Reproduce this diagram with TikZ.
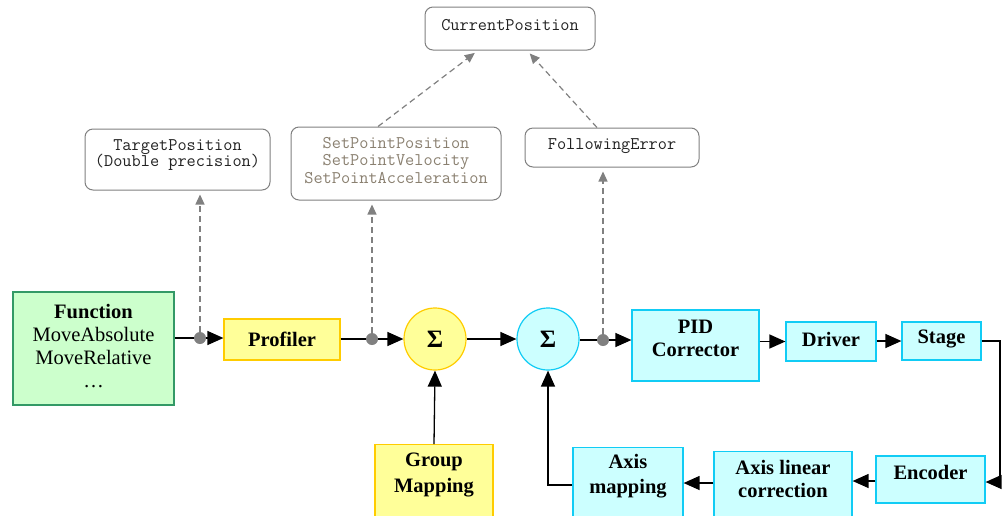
\documentclass[tikz,border=0pt]{standalone}
\usepackage{fontspec}
\setmainfont{Liberation Serif}
\usetikzlibrary{arrows.meta,calc}
\definecolor{yfill}{HTML}{FFFF99}
\definecolor{ydraw}{HTML}{FFCC00}
\definecolor{cfill}{HTML}{CCFFFF}
\definecolor{cdraw}{HTML}{11CCF5}
\definecolor{gfill}{HTML}{CCFFCC}
\definecolor{gdraw}{HTML}{339966}
\definecolor{dgray}{HTML}{808080}
\definecolor{tgray}{HTML}{8A8070}
\definecolor{ttext}{HTML}{222222}
\newcommand{\mb}{\addfontfeature{FakeBold=0.7}}
\begin{document}
\begin{tikzpicture}[x=1pt,y=-1pt,
  blk/.style={draw, line width=1.2pt, inner sep=0pt, align=center,
    font=\bfseries\fontsize{20.5}{24.5}\selectfont},
  ybox/.style={blk, fill=yfill, draw=ydraw},
  cbox/.style={blk, fill=cfill, draw=cdraw},
  gbox/.style={blk, fill=gfill, draw=gdraw},
  lbl/.style={inner sep=0pt, align=center, font=\bfseries\fontsize{20.5}{24.5}\selectfont},
  rbox/.style={draw=dgray, line width=1pt, rounded corners=8pt, fill=white, inner sep=0pt},
  mono/.style={inner sep=0pt, align=center, font=\ttfamily\fontsize{17.8}{16.5}\selectfont},
  dot/.style={circle, fill=dgray, inner sep=0pt, minimum size=12pt},
  arr/.style={line width=1.3pt, -{Triangle[length=16pt,width=14pt]}},
  ln/.style={line width=1.3pt},
  darr/.style={draw=dgray, line width=1.2pt, dash pattern=on 6pt off 4pt,
    -{Triangle[length=10pt,width=9pt]}, shorten >=4pt},
]
\useasboundingbox (0,0) rectangle (1008,515);
\clip (0,0) rectangle (1008,515);

% main row
\node (func) [gbox, minimum width=161pt, minimum height=113pt] at (93.5,348.5) {};
\node (funct) [lbl, font=\fontsize{20.5}{23}\selectfont] at (93.5,346)
  {\bfseries Function\\MoveAbsolute\\MoveRelative\\\dots};
\node (prof) [ybox, minimum width=116pt, minimum height=41pt] at (282,339.5) {Profiler};
\node (s1) [ybox, circle, minimum size=62pt, font=\bfseries\fontsize{25}{25}\selectfont] at (435,339) {Σ};
\node (s2) [cbox, circle, minimum size=62pt, font=\bfseries\fontsize{25}{25}\selectfont] at (548,339) {Σ};
\node (pid) [cbox, minimum width=127pt, minimum height=71pt] at (695.5,345.5) {};
\node (pidt) [lbl, font=\bfseries\fontsize{20.5}{23}\selectfont] at (695.5,338) {PID\\Corrector};
\node (drv) [cbox, minimum width=90pt, minimum height=39pt] at (831,341.5) {};
\node (drvt) [lbl] at (831,339) {Driver};
\node (stg) [cbox, minimum width=79pt, minimum height=38pt] at (941.5,341) {};
\node (stgt) [lbl] at (941.5,339) {Stage};

% bottom row
\node (enc) [cbox, minimum width=109pt, minimum height=47pt] at (930.5,479.5) {};
\node (enct) [lbl] at (930.5,472) {Encoder};
\node (alc) [cbox, anchor=north, minimum width=138pt, minimum height=90pt] at (783,451) {};
\node (alct) [lbl, font=\bfseries\fontsize{20.5}{23}\selectfont] at (783,479) {Axis linear\\correction};
\node (am) [cbox, anchor=north, minimum width=110pt, minimum height=90pt] at (628,447) {};
\node (amt) [lbl] at (628,476) {Axis\\mapping};
\node (gm) [ybox, anchor=north, minimum width=118pt, minimum height=90pt] at (434,444) {};
\node (gmt) [lbl, font=\bfseries\fontsize{20.5}{26}\selectfont] at (434,475) {Group\\Mapping};

% dots
\node (d1) [dot] at (200,338) {};
\node (d2) [dot] at (372,339) {};
\node (d3) [dot] at (603,340) {};

% top boxes
\node (tp) [rbox, minimum width=185pt, minimum height=61pt] at (177.5,159.5) {};
\node (tpt) [mono, text=ttext] at (177.5,155) {{\mb TargetPosition}\\(Double precision)};
\node (sp) [rbox, minimum width=210pt, minimum height=73pt] at (396,163.5) {};
\node (spt) [mono, text=tgray, font=\ttfamily\fontsize{17.8}{17.5}\selectfont] at (396,160.5)
  {SetPointPosition\\SetPointVelocity\\SetPointAcceleration};
\node (fe) [rbox, minimum width=174pt, minimum height=39pt] at (612,147.5) {};
\node (fet) [mono, text=ttext] at (612,146) {\mb FollowingError};
\node (cp) [rbox, minimum width=170pt, minimum height=43pt] at (510,28.5) {};
\node (cpt) [mono, text=ttext] at (510,25) {\mb CurrentPosition};

% main connectors
\draw[ln] (func.east |- d1) -- (d1);
\draw[arr] (d1) -- (prof.west |- d1);
\draw[ln] (prof.east |- d2) -- (d2);
\draw[arr] (d2) -- (s1.west);
\draw[arr] (s1.east) -- (s2.west);
\draw[ln] (s2.east |- d3) -- (d3);
\draw[arr] (d3) -- (pid.west |- d3);
\draw[arr] (pid.east |- drv.west) -- (drv.west);
\draw[arr] (drv.east |- stg.west) -- (stg.west);
\coordinate (c1) at (1000,341);
\coordinate (c2) at (1000,482);
\draw[arr] (stg.east) -- (c1) -- (c2) -- (enc.east |- c2);
\draw[arr] (enc.west |- 0,481) -- (alc.east |- 0,481);
\draw[arr] (alc.west |- 0,483) -- (am.east |- 0,483);
\coordinate (c3) at (548,485);
\draw[arr] (am.west |- c3) -- (c3) -- (s2.south);
\draw[arr] (gm.north) -- (s1.south);

% dashed connectors
\draw[darr] (d1) -- (tp.south -| d1);
\draw[darr] (d2) -- (sp.south -| d2);
\draw[darr] (d3) -- (fe.south -| d3);
\draw[darr] ($(sp.north)+(-18,0)$) -- ($(cp.south)+(-32,0)$);
\draw[darr] ($(fe.north)+(-15,0)$) -- ($(cp.south)+(17,0)$);
\end{tikzpicture}
\end{document}
